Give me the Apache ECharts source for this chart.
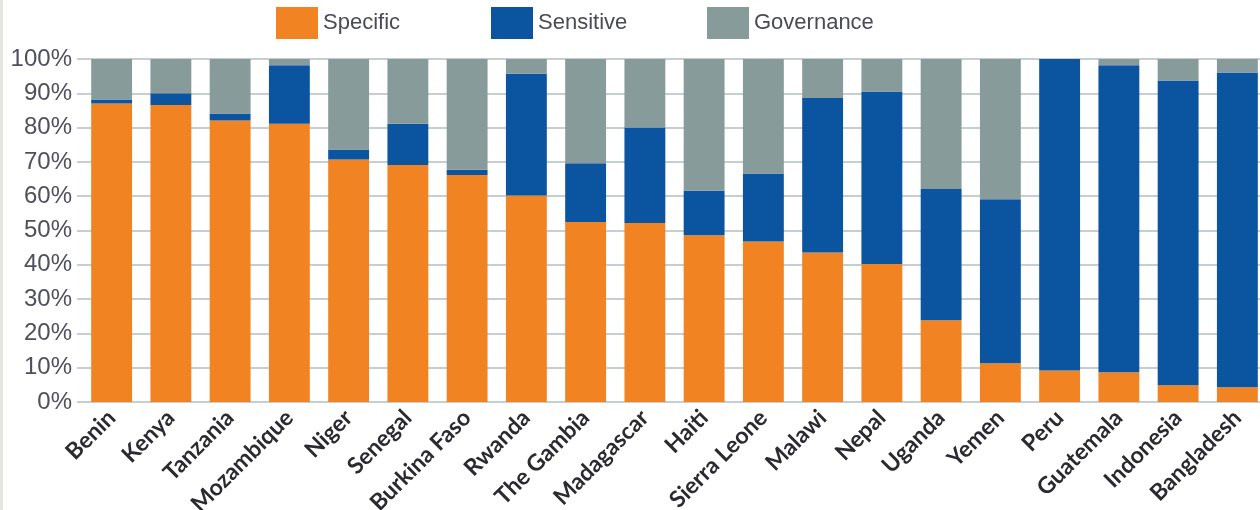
<!DOCTYPE html>
<html>
<head>
<meta charset="utf-8">
<script src="https://cdn.jsdelivr.net/npm/echarts@6/dist/echarts.min.js"></script>
<style>
html,body{margin:0;padding:0;background:#fff;}
#chart{width:1260px;height:510px;}
</style>
</head>
<body>
<div id="chart"></div>
<script>
const categories = ['Benin','Kenya','Tanzania','Mozambique','Niger','Senegal','Burkina Faso','Rwanda','The Gambia','Madagascar','Haiti','Sierra Leone','Malawi','Nepal','Uganda','Yemen','Peru','Guatemala','Indonesia','Bangladesh'];
const specific   = [87.0, 86.6, 82.1, 81.1, 70.7, 69.1, 66.2, 60.2, 52.5, 52.2, 48.6, 46.8, 43.6, 40.2, 23.8, 11.3, 9.2, 8.7, 4.9, 4.3];
const sensitive  = [1.2, 3.4, 2.0, 17.1, 2.9, 12.0, 1.5, 35.5, 17.1, 27.8, 13.0, 19.8, 45.0, 50.3, 38.3, 47.8, 90.8, 89.5, 88.8, 91.8];
const governance = [11.8, 10.0, 15.9, 1.8, 26.4, 18.9, 32.3, 4.3, 30.4, 20.0, 38.4, 33.4, 11.4, 9.5, 37.9, 40.9, 0.0, 1.8, 6.3, 3.9];
const yTicks = [0,10,20,30,40,50,60,70,80,90,100];
const seriesNames = ['Specific','Sensitive','Governance'];
const colors = ['#F28322','#0B54A0','#879B9A'];

const chart = echarts.init(document.getElementById('chart'), null, {renderer:'canvas'});
const legendFont = {fontFamily:'"Liberation Sans", sans-serif', fontSize:22, color:'#4a4a58'};
const legendPos = [271, 486, 702];
const option = {
  backgroundColor:'#ffffff',
  animation:false,
  graphic:[{type:'rect', left:0, top:0, shape:{width:3,height:510}, style:{fill:'#e8e5de'}, silent:true}],
  legend: seriesNames.map((n,i)=>({
    data:[n], left:legendPos[i], top:2, itemWidth:42, itemHeight:32, itemGap:0,
    icon:'rect', textStyle:legendFont, selectedMode:false
  })),
  grid:{left:82, top:59, width:1185, height:343, containLabel:false, outerBoundsMode:'none'},
  xAxis:{
    type:'category', data:categories,
    axisLine:{show:true, lineStyle:{color:'#c5cfd1', width:2}},
    axisTick:{show:false},
    axisLabel:{rotate:45, interval:0, margin:12, color:'#2a2a30', fontFamily:'Lato, "Open Sans", sans-serif', fontWeight:'bold', fontSize:23}
  },
  yAxis:{
    type:'value', min:yTicks[0], max:yTicks[yTicks.length-1], interval:10,
    axisLine:{show:false},
    axisTick:{show:true, length:5, lineStyle:{color:'#c5cfd1', width:2}},
    splitLine:{show:true, lineStyle:{color:'#c5cfd1', width:2}},
    axisLabel:{margin:10, formatter:v=>v+'%', color:'#4f4f5e', fontFamily:'"Liberation Sans", sans-serif', fontSize:24}
  },
  series:[specific, sensitive, governance].map((d,i)=>({
    name:seriesNames[i], type:'bar', stack:'total', data:d, barWidth:'69%',
    itemStyle:{color:colors[i]}
  }))
};
chart.setOption(option);
</script>
</body>
</html>
